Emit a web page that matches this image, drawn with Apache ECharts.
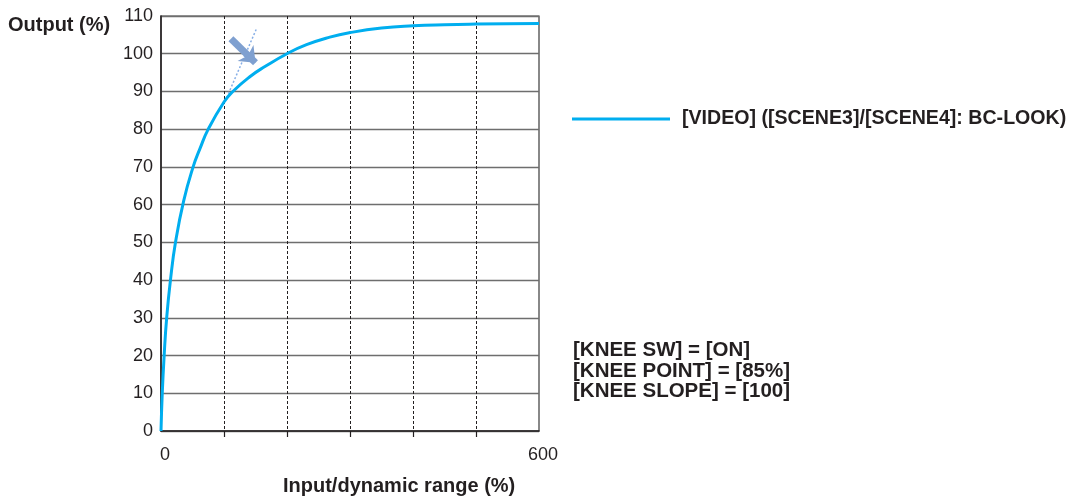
<!DOCTYPE html>
<html>
<head>
<meta charset="utf-8">
<script src="https://cdn.jsdelivr.net/npm/echarts@6/dist/echarts.min.js"></script>
<style>
  html, body { margin: 0; padding: 0; background: #fff; }
  #chart { width: 1080px; height: 501px; }
</style>
</head>
<body>
<div id="chart"></div>
<script>
// curve (input %, output %)
const inputVals = [0, 2, 5, 9, 15, 23, 36, 51, 62, 75, 100, 114, 141, 165, 200, 231, 268, 300, 350, 400, 450, 500, 600];
const outputVals = [0, 10, 20, 30, 40, 50, 61, 70, 74.9, 80, 87.2, 90, 93.9, 96.6, 100, 102.4, 104.4, 105.6, 106.8, 107.4, 107.7, 107.85, 108];
const seriesName = "[VIDEO] ([SCENE3]/[SCENE4]: BC-LOOK)";

// knee slope guide and arrow (data units)
const tangentX = [107, 152];
const tangentY = [89.4, 106.8];
const arrowFrom = [111, 104];
const arrowTo = [150, 97.6];

const xLabels = [0, 600];
const xTicks = [100, 200, 300, 400, 500];
const kneeText = ["[KNEE SW] = [ON]", "[KNEE POINT] = [85%]", "[KNEE SLOPE] = [100]"];

const font = "'Liberation Sans', Arial, sans-serif";
const ink = "#231f20";

const curve = inputVals.map((x, i) => [x, outputVals[i]]);
const tangent = tangentX.map((x, i) => [x, tangentY[i]]);

var myChart = echarts.init(document.getElementById("chart"));
myChart.setOption({
  animation: false,
  grid: {
    left: 161,
    right: 541,
    top: 16,
    bottom: 70,
    show: true,
    borderColor: "#3a3a3a",
    borderWidth: 1.2,
  },
  legend: {
    data: [seriesName],
    left: 572,
    top: 109,
    padding: 0,
    icon: "rect",
    itemWidth: 98,
    itemHeight: 3,
    textStyle: {
      fontFamily: font,
      fontWeight: "bold",
      fontSize: 19.6,
      color: ink,
      padding: [0, 0, 0, 7],
    },
  },
  xAxis: {
    type: "value",
    min: 0,
    max: 600,
    interval: 100,
    axisLine: { lineStyle: { color: ink, width: 1.5 } },
    axisTick: {
      customValues: xTicks,
      length: 6,
      lineStyle: { color: ink, width: 1.2 },
    },
    axisLabel: {
      customValues: xLabels,
      margin: 15,
      padding: [0, 0, 0, 8],
      fontFamily: font,
      fontSize: 18,
      color: ink,
    },
    splitLine: {
      show: true,
      lineStyle: { color: ink, width: 1, type: [3, 2] },
    },
  },
  yAxis: {
    type: "value",
    min: 0,
    max: 110,
    interval: 10,
    axisLine: { show: true, lineStyle: { color: ink, width: 1.5 } },
    axisTick: { show: false },
    axisLabel: {
      margin: 8,
      fontFamily: font,
      fontSize: 18,
      color: ink,
    },
    splitLine: {
      show: true,
      lineStyle: { color: "#6e6e6e", width: 1.4 },
    },
  },
  series: [
    {
      name: seriesName,
      type: "line",
      data: curve,
      smooth: 0.5,
      showSymbol: false,
      color: "#00aeef",
      lineStyle: { color: "#00aeef", width: 3 },
      z: 3,
    },
    {
      name: "tangent",
      type: "line",
      data: tangent,
      showSymbol: false,
      lineStyle: { color: "#86aee6", width: 1.5, type: [2, 2] },
      z: 2,
      markLine: {
        silent: true,
        symbol: ["none", "arrow"],
        symbolSize: [17, 14],
        label: { show: false },
        lineStyle: { color: "#7fa0d0", width: 7, type: "solid" },
        data: [[{ coord: arrowFrom }, { coord: arrowTo }]],
      },
    },
  ],
  graphic: [
    {
      type: "text",
      left: 8,
      top: 15,
      style: { text: "Output (%)", font: "bold 20px " + font, fill: ink },
    },
    {
      type: "text",
      left: 283,
      top: 476,
      style: { text: "Input/dynamic range (%)", font: "bold 20px " + font, fill: ink },
    },
    {
      type: "text",
      left: 573,
      top: 340,
      style: {
        text: kneeText.join("\n"),
        font: "bold 20.5px " + font,
        lineHeight: 20.5,
        fill: ink,
      },
    },
  ],
});

window.addEventListener("resize", () => {
  myChart.resize();
});
</script>
</body>
</html>
